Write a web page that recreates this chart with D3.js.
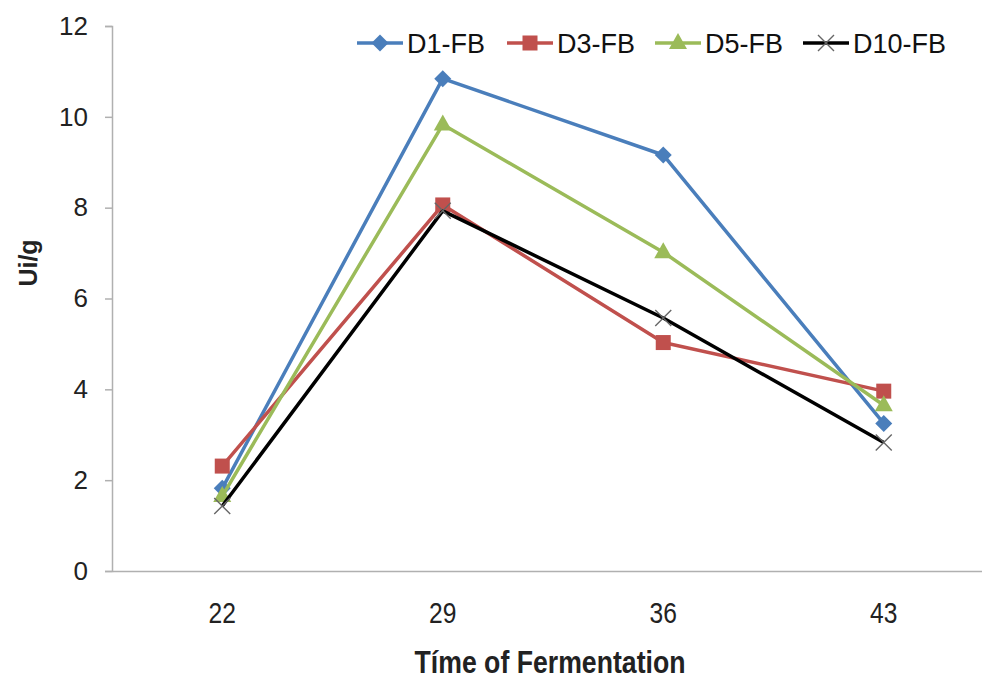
<!DOCTYPE html>
<html>
<head>
<meta charset="utf-8">
<script src="https://cdn.jsdelivr.net/npm/d3@7"></script>
<style>
  html, body { margin: 0; padding: 0; background: #fff; }
  svg { display: block; }
</style>
</head>
<body>
<svg id="chart" width="982" height="679"></svg>
<script>
// ---- data ----
const days = ['22', '29', '36', '43'];
const d1fb = [1.82, 10.84, 9.16, 3.25];
const d3fb = [2.31, 8.06, 5.03, 3.96];
const d5fb = [1.65, 9.83, 7.02, 3.65];
const d10fb = [1.43, 7.93, 5.57, 2.83];
const seriesNames = ['D1-FB', 'D3-FB', 'D5-FB', 'D10-FB'];
const yTicks = [0, 2, 4, 6, 8, 10, 12];

const series = [
    { name: seriesNames[0], values: d1fb, color: '#4a7ebb', marker: 'diamond' },
    { name: seriesNames[1], values: d3fb, color: '#c0504d', marker: 'square' },
    { name: seriesNames[2], values: d5fb, color: '#9bbb59', marker: 'triangle' },
    { name: seriesNames[3], values: d10fb, color: '#000000', marker: 'cross' }
];

const svg = d3.select('#chart');
const plot = { left: 112, right: 994, top: 26, bottom: 571 };
const font = '"Liberation Sans", Arial, sans-serif';

const x = d3.scaleBand()
    .domain(days)
    .range([plot.left, plot.right]);

const y = d3.scaleLinear()
    .domain([0, 12])
    .range([plot.bottom, plot.top]);

// Axes
const yAxis = svg.append('g')
    .attr('transform', `translate(${plot.left},0)`)
    .call(d3.axisLeft(y).tickValues(yTicks).tickSize(7).tickPadding(17));
yAxis.select('.domain').attr('stroke', '#b0b0b0').attr('stroke-width', 1.5);
yAxis.selectAll('.tick line').attr('stroke', '#b0b0b0').attr('stroke-width', 1.5);
yAxis.selectAll('text')
    .attr('fill', '#222')
    .style('font-family', font)
    .style('font-size', '26px');

const xAxis = svg.append('g')
    .attr('transform', `translate(0,${plot.bottom})`)
    .call(d3.axisBottom(x).tickSize(0).tickPadding(31));
xAxis.select('.domain').attr('stroke', '#b0b0b0').attr('stroke-width', 1.5);
xAxis.selectAll('text')
    .attr('fill', '#222')
    .attr('transform', 'scale(0.82,1)')
    .style('font-family', font)
    .style('font-size', '30px');

// Axis titles
svg.append('text')
    .attr('transform', `translate(37,263) rotate(-90)`)
    .attr('text-anchor', 'middle')
    .style('font-family', font)
    .style('font-weight', 'bold')
    .style('font-size', '25px')
    .attr('fill', '#222')
    .text('Ui/g');

svg.append('text')
    .attr('transform', 'translate(550,673) scale(0.86,1)')
    .attr('text-anchor', 'middle')
    .style('font-family', font)
    .style('font-weight', 'bold')
    .style('font-size', '31px')
    .attr('fill', '#222')
    .text('Tíme of Fermentation');

// Markers
function drawMarker(g, type, cx, cy, color) {
    if (type === 'diamond') {
        g.append('path')
            .attr('d', `M${cx},${cy - 8.5}L${cx + 8.5},${cy}L${cx},${cy + 8.5}L${cx - 8.5},${cy}Z`)
            .attr('fill', color);
    } else if (type === 'square') {
        g.append('rect')
            .attr('x', cx - 7.5).attr('y', cy - 7.5)
            .attr('width', 15).attr('height', 15)
            .attr('fill', color);
    } else if (type === 'triangle') {
        g.append('path')
            .attr('d', `M${cx},${cy - 10}L${cx + 9},${cy + 6}L${cx - 9},${cy + 6}Z`)
            .attr('fill', color);
    } else {
        g.append('path')
            .attr('d', `M${cx - 8},${cy - 8}L${cx + 8},${cy + 8}M${cx - 8},${cy + 8}L${cx + 8},${cy - 8}`)
            .attr('stroke', '#666')
            .attr('stroke-width', 1.4)
            .attr('fill', 'none');
    }
}

const line = d3.line()
    .x((d, i) => x(days[i]) + x.bandwidth() / 2)
    .y(d => y(d));

series.forEach(s => {
    const g = svg.append('g');
    g.append('path')
        .datum(s.values)
        .attr('d', line)
        .attr('fill', 'none')
        .attr('stroke', s.color)
        .attr('stroke-width', 3.5)
        .attr('stroke-linejoin', 'round');
    s.values.forEach((v, i) => {
        drawMarker(g, s.marker, x(days[i]) + x.bandwidth() / 2, y(v), s.color);
    });
});

// Legend
const legendX = [357, 507, 655, 803];
const legendY = 43;
series.forEach((s, i) => {
    const g = svg.append('g');
    const lx = legendX[i];
    g.append('line')
        .attr('x1', lx).attr('x2', lx + 46)
        .attr('y1', legendY).attr('y2', legendY)
        .attr('stroke', s.color)
        .attr('stroke-width', 3.5);
    drawMarker(g, s.marker, lx + 23, legendY, s.color);
    g.append('text')
        .attr('x', lx + 50)
        .attr('y', legendY + 10)
        .style('font-family', font)
        .style('font-size', '27px')
        .attr('fill', '#111')
        .text(s.name);
});
</script>
</body>
</html>
